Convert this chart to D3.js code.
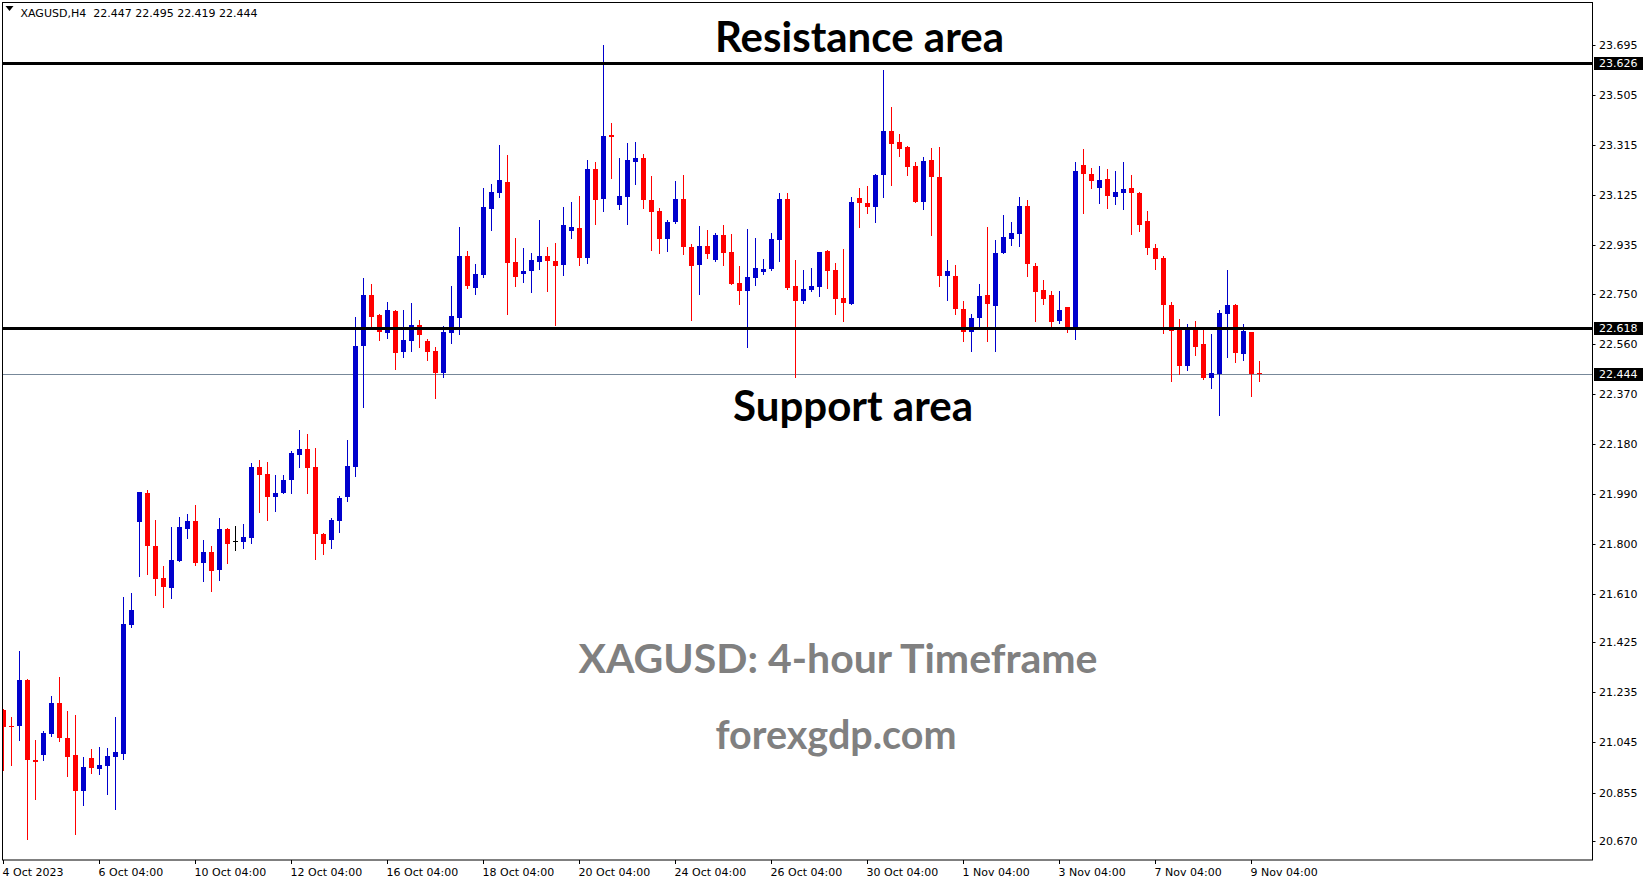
<!DOCTYPE html>
<html><head><meta charset="utf-8">
<script src="https://cdn.jsdelivr.net/npm/d3@7/dist/d3.min.js"></script>
<style>
html,body{margin:0;padding:0;background:#fff;overflow:hidden;}
svg{display:block;}
</style></head>
<body>
<svg id="chart" width="1649" height="884"></svg>
<script>
// ---------- DATA ----------
const symbolLabel = "XAGUSD,H4";
const ohlcLabel = "22.447 22.495 22.419 22.444";

const opens = [21.168,21.107,21.108,21.282,20.978,20.997,21.077,21.195,21.062,20.997,
20.860,20.986,20.944,20.955,20.989,21.003,21.492,21.884,21.993,21.791,
21.670,21.633,21.735,21.856,21.886,21.728,21.768,21.701,21.856,21.810,
21.808,21.823,22.091,22.065,21.979,21.994,22.043,22.137,22.160,22.091,
21.837,21.815,21.887,21.979,22.093,22.551,22.745,22.669,22.602,22.684,
22.530,22.571,22.631,22.570,22.532,22.450,22.602,22.659,22.893,22.773,
22.822,23.073,23.134,23.174,22.870,22.826,22.837,22.872,22.893,22.874,
22.860,22.989,22.999,22.887,23.224,23.111,23.353,23.087,23.117,23.250,
23.266,23.106,23.064,22.958,23.022,23.110,22.927,22.859,22.931,22.878,
22.973,22.908,22.791,22.761,22.811,22.834,22.844,22.955,23.110,22.779,
22.723,22.764,22.777,22.912,22.840,22.734,22.712,23.114,23.095,23.081,
23.201,23.368,23.326,23.307,23.235,23.100,23.258,23.193,22.818,22.817,
22.692,22.606,22.659,22.745,22.704,22.906,22.959,22.978,23.083,22.855,
22.764,22.745,22.647,22.699,22.625,23.240,23.205,23.153,23.186,23.119,
23.134,23.152,23.133,23.026,22.924,22.886,22.707,22.612,22.476,22.612,
22.559,22.431,22.446,22.674,22.707,22.522,22.605,22.447];
const highs = [21.172,21.140,21.392,21.286,21.054,21.088,21.221,21.293,21.164,21.149,
20.989,21.020,21.027,21.024,21.141,21.599,21.613,21.996,22.004,21.890,
21.715,21.863,21.901,21.913,21.947,21.814,21.791,21.898,21.860,21.867,
21.875,22.107,22.118,22.110,22.061,22.061,22.152,22.232,22.217,22.164,
21.842,21.898,21.981,22.194,22.661,22.810,22.787,22.673,22.718,22.688,
22.688,22.715,22.650,22.578,22.547,22.627,22.779,23.003,22.912,22.863,
23.152,23.167,23.315,23.277,22.962,22.924,22.905,23.030,22.927,22.943,
23.079,23.098,23.121,23.258,23.250,23.695,23.400,23.266,23.323,23.326,
23.281,23.197,23.076,23.030,23.178,23.201,22.939,23.007,22.992,22.981,
23.011,22.977,22.855,22.996,22.962,22.882,22.981,23.133,23.133,22.878,
22.840,22.848,22.908,22.916,22.867,22.920,23.117,23.152,23.159,23.205,
23.600,23.459,23.357,23.311,23.250,23.269,23.304,23.307,22.878,22.859,
22.722,22.673,22.787,23.003,22.954,23.049,23.022,23.117,23.106,22.867,
22.803,22.760,22.760,22.699,23.250,23.300,23.228,23.235,23.224,23.216,
23.250,23.201,23.136,23.064,22.939,22.893,22.718,22.654,22.635,22.646,
22.612,22.597,22.688,22.840,22.712,22.635,22.605,22.495];
const lows = [20.940,20.959,21.054,20.678,20.830,20.978,21.069,21.050,20.917,20.697,
20.807,20.929,20.925,20.849,20.792,20.981,21.485,21.677,21.685,21.606,
21.561,21.595,21.735,21.822,21.720,21.659,21.621,21.663,21.728,21.777,
21.785,21.804,21.922,21.891,21.925,21.993,21.994,22.093,21.994,21.743,
21.762,21.785,21.846,21.963,22.057,22.321,22.625,22.575,22.583,22.465,
22.511,22.533,22.549,22.499,22.355,22.435,22.564,22.598,22.773,22.750,
22.815,22.993,23.119,22.674,22.780,22.796,22.758,22.845,22.761,22.632,
22.822,22.963,22.860,22.868,23.016,23.065,23.191,23.072,23.015,23.167,
23.076,22.916,22.905,22.912,23.019,22.901,22.650,22.749,22.886,22.874,
22.859,22.786,22.712,22.549,22.784,22.826,22.840,22.876,22.769,22.435,
22.716,22.760,22.742,22.773,22.674,22.647,22.712,23.005,23.058,23.024,
23.119,23.164,23.274,23.202,23.100,23.073,22.974,22.780,22.727,22.674,
22.570,22.534,22.625,22.571,22.534,22.906,22.936,22.932,22.818,22.647,
22.712,22.625,22.640,22.606,22.579,23.058,23.152,23.096,23.077,23.092,
23.073,22.978,22.989,22.902,22.845,22.602,22.419,22.446,22.461,22.518,
22.427,22.393,22.290,22.511,22.492,22.499,22.363,22.419];
const closes = [21.105,21.105,21.282,20.978,20.972,21.081,21.195,21.062,20.989,20.860,
20.951,20.949,20.959,20.993,21.008,21.495,21.548,21.996,21.792,21.667,
21.637,21.738,21.863,21.886,21.728,21.768,21.697,21.856,21.800,21.810,
21.825,22.091,22.062,21.979,21.993,22.042,22.145,22.160,22.089,21.838,
21.800,21.890,21.974,22.095,22.551,22.745,22.663,22.603,22.688,22.526,
22.574,22.631,22.594,22.530,22.450,22.604,22.665,22.893,22.780,22.825,
23.079,23.136,23.182,22.868,22.815,22.836,22.878,22.893,22.875,22.856,
23.011,23.003,22.887,23.224,23.107,23.349,23.344,23.121,23.258,23.266,
23.106,23.060,22.958,23.022,23.110,22.927,22.855,22.931,22.901,22.973,
22.905,22.788,22.761,22.813,22.848,22.844,22.958,23.110,22.772,22.723,
22.768,22.779,22.908,22.837,22.731,22.716,23.098,23.096,23.081,23.201,
23.368,23.320,23.301,23.233,23.100,23.254,23.195,22.818,22.836,22.693,
22.605,22.658,22.741,22.712,22.905,22.965,22.981,23.083,22.864,22.758,
22.731,22.644,22.688,22.625,23.215,23.205,23.179,23.182,23.122,23.137,
23.148,23.134,23.012,22.925,22.883,22.708,22.609,22.476,22.612,22.549,
22.431,22.449,22.677,22.707,22.526,22.608,22.446,22.444];

const yTicks = [23.695,23.505,23.315,23.125,22.935,22.750,22.560,22.370,22.180,21.990,
21.800,21.610,21.425,21.235,21.045,20.855,20.670];
const xLabelBars = [0,12,24,36,48,60,72,84,96,108,120,132,144,156];
const xLabels = ["4 Oct 2023","6 Oct 04:00","10 Oct 04:00","12 Oct 04:00","16 Oct 04:00",
"18 Oct 04:00","20 Oct 04:00","24 Oct 04:00","26 Oct 04:00","30 Oct 04:00",
"1 Nov 04:00","3 Nov 04:00","7 Nov 04:00","9 Nov 04:00"];
const resistanceLevel = 23.626;
const supportLevel = 22.618;
const bidLevel = 22.444;
const titleTexts = ["Resistance area","Support area","XAGUSD: 4-hour Timeframe","forexgdp.com"];

// ---------- LAYOUT ----------
const W = 1649, H = 884;
const plot = {left:2.5, right:1592.5, top:2.5, bottom:860};
const svg = d3.select("#chart");

const y = d3.scaleLinear().domain([20.670, 23.695]).range([841.2, 45]);
const x = d3.scaleLinear().domain([0, opens.length-1]).range([3.5, 3.5 + 8*(opens.length-1)]);

const data = opens.map((o,i)=>({i, o, h:highs[i], l:lows[i], c:closes[i]}));
const colorOf = d => d.c > d.o ? "#0000cd" : (d.c < d.o ? "#ff0000" : "#000000");

svg.append("rect").attr("width",W).attr("height",H).attr("fill","#fff");

svg.append("defs").append("clipPath").attr("id","plotClip")
  .append("rect").attr("x",plot.left+0.5).attr("y",plot.top+0.5)
  .attr("width",plot.right-plot.left-1).attr("height",plot.bottom-plot.top-1);

const g = svg.append("g").attr("clip-path","url(#plotClip)");

// bid line
g.append("line").attr("x1",plot.left).attr("x2",plot.right)
  .attr("y1",Math.round(y(bidLevel))+0.5).attr("y2",Math.round(y(bidLevel))+0.5)
  .attr("stroke","#778899").attr("stroke-width",1);

// candles
const cg = g.append("g");
cg.selectAll("line.wick").data(data).join("line").attr("class","wick")
  .attr("x1",d=>x(d.i)).attr("x2",d=>x(d.i))
  .attr("y1",d=>Math.round(y(d.h))).attr("y2",d=>Math.round(y(d.l))+1)
  .attr("stroke",colorOf).attr("stroke-width",1).attr("shape-rendering","crispEdges");
cg.selectAll("rect.body").data(data).join("rect").attr("class","body")
  .attr("x",d=>x(d.i)-2.5).attr("width",5)
  .attr("y",d=>Math.round(y(Math.max(d.o,d.c))))
  .attr("height",d=>Math.max(1, Math.round(y(Math.min(d.o,d.c))) - Math.round(y(Math.max(d.o,d.c)))))
  .attr("fill",colorOf).attr("shape-rendering","crispEdges");

// resistance & support lines
[resistanceLevel, supportLevel].forEach(v=>{
  g.append("line").attr("x1",plot.left).attr("x2",plot.right)
    .attr("y1",Math.round(y(v))+0.5).attr("y2",Math.round(y(v))+0.5)
    .attr("stroke","#000").attr("stroke-width",3);
});

// border
svg.append("rect").attr("x",plot.left).attr("y",plot.top)
  .attr("width",plot.right-plot.left).attr("height",plot.bottom-plot.top)
  .attr("fill","none").attr("stroke","#000").attr("stroke-width",1);

// right axis
const axisFont = "DejaVu Sans, Verdana, sans-serif";
const ra = svg.append("g");
yTicks.forEach(v=>{
  const yy = Math.round(y(v))+0.5;
  ra.append("line").attr("x1",plot.right).attr("x2",plot.right+3).attr("y1",yy).attr("y2",yy).attr("stroke","#000");
  ra.append("text").attr("x",1599).attr("y",yy).attr("dy","0.36em")
    .attr("font-family",axisFont).attr("font-size",11).attr("fill","#000").text(v.toFixed(3));
});
[resistanceLevel, supportLevel, bidLevel].forEach(v=>{
  const yy = Math.round(y(v))+0.5;
  ra.append("rect").attr("x",1594).attr("y",yy-6.5).attr("width",49).attr("height",13).attr("fill","#000");
  ra.append("text").attr("x",1599).attr("y",yy).attr("dy","0.36em")
    .attr("font-family",axisFont).attr("font-size",11).attr("fill","#fff").text(v.toFixed(3));
});

// bottom axis
const ba = svg.append("g");
xLabelBars.forEach((b,k)=>{
  const xx = x(b);
  ba.append("line").attr("x1",xx).attr("x2",xx).attr("y1",plot.bottom).attr("y2",plot.bottom+4).attr("stroke","#000");
  ba.append("text").attr("x",xx-1).attr("y",876)
    .attr("font-family",axisFont).attr("font-size",11).attr("fill","#000").text(xLabels[k]);
});

// header
svg.append("path").attr("d","M5.5,6 L13.5,6 L9.5,11 Z").attr("fill","#000");
svg.append("text").attr("x",20.5).attr("y",16.5).attr("font-family",axisFont).attr("font-size",11)
  .attr("fill","#000").attr("xml:space","preserve").text(symbolLabel + "  " + ohlcLabel);

// annotations
const annFont = "Lato, 'Open Sans', sans-serif";
const ann = [
  {t:titleTexts[0], cx:859.5, by:52, len:289, fill:"#000", fs:42},
  {t:titleTexts[1], cx:853, by:421, len:240, fill:"#000", fs:42},
  {t:titleTexts[2], cx:838, by:673, len:519, fill:"#808080", fs:41},
  {t:titleTexts[3], cx:836, by:749, len:241, fill:"#808080", fs:41}
];
ann.forEach(a=>{
  svg.append("text").attr("x",a.cx).attr("y",a.by).attr("text-anchor","middle")
    .attr("font-family",annFont).attr("font-weight","bold").attr("font-size",a.fs)
    .attr("fill",a.fill).attr("textLength",a.len).attr("lengthAdjust","spacingAndGlyphs")
    .text(a.t);
});
</script>
</body></html>
